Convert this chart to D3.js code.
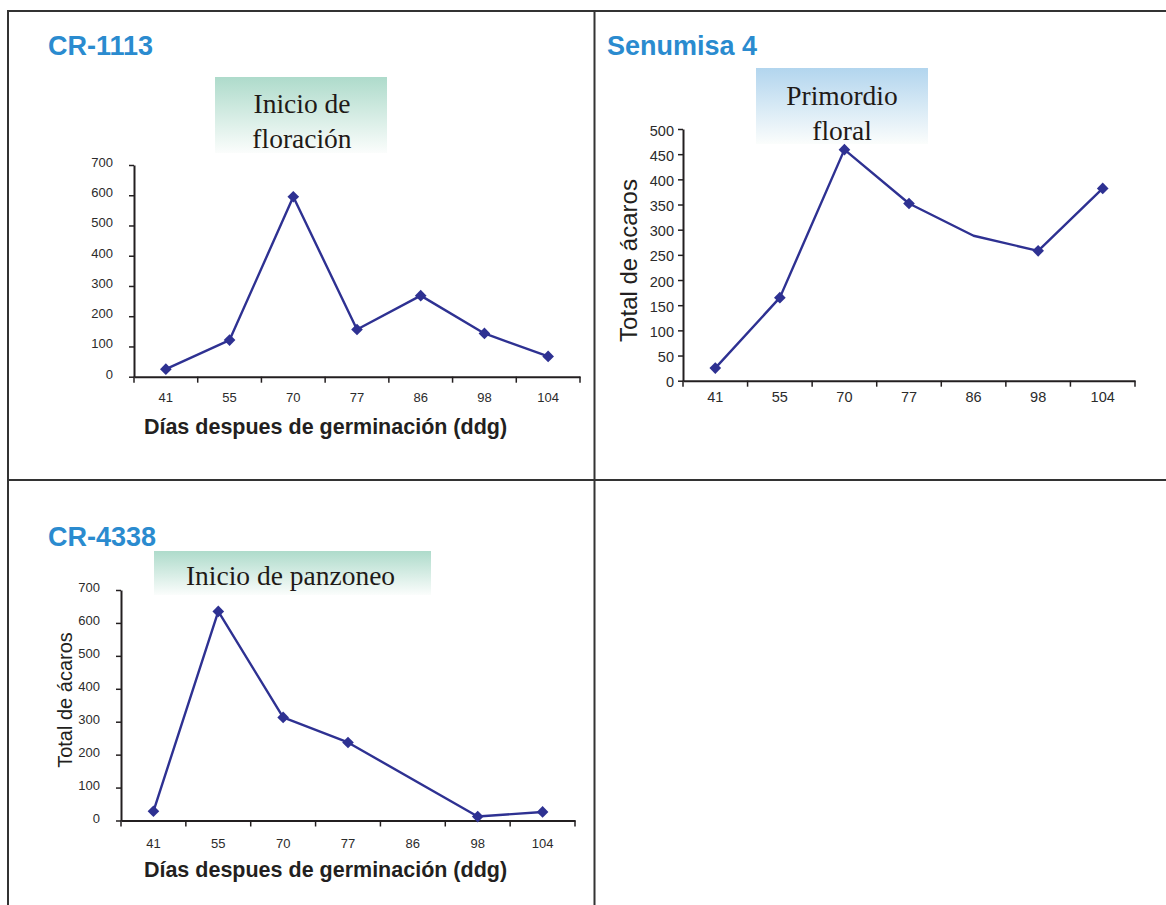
<!DOCTYPE html>
<html>
<head>
<meta charset="utf-8">
<script src="https://cdn.jsdelivr.net/npm/d3@7"></script>
<style>
  html, body { margin: 0; padding: 0; background: #fff; }
  svg { display: block; }
</style>
</head>
<body>
<svg id="chart" width="1166" height="905"></svg>
<script>
// ---- data ----
const days = ["41", "55", "70", "77", "86", "98", "104"];
const cr1113 = [25, 121, 595, 156, 268, 143, 67];
const senumisa4 = [25, 165, 459, 352, 288, 258, 382];
const senumisa4Markers = [true, true, true, true, false, true, true];
const cr4338 = [28, 635, 313, 237, null, 12, 26];
const ticks700 = [0, 100, 200, 300, 400, 500, 600, 700];
const ticks500 = [0, 50, 100, 150, 200, 250, 300, 350, 400, 450, 500];
const panelTitles = ["CR-1113", "Senumisa 4", "CR-4338"];
const stageLabels = [["Inicio de", "floración"], ["Primordio", "floral"], ["Inicio de panzoneo"]];
const xAxisTitle = "Días despues de germinación (ddg)";
const yAxisTitle = "Total de ácaros";

const svg = d3.select("#chart");
const LINE = "#2e3192";
const AXIS = "#231f20";
const TEXT = "#2b2b2b";
const BLUE = "#2a8bcf";
const SANS = "'Liberation Sans', Arial, sans-serif";
const SERIF = "'Liberation Serif', 'Times New Roman', serif";

// gradients
const defs = svg.append("defs");
function grad(id, top) {
  const g = defs.append("linearGradient").attr("id", id).attr("x1", 0).attr("y1", 0).attr("x2", 0).attr("y2", 1);
  g.append("stop").attr("offset", "0%").attr("stop-color", top);
  g.append("stop").attr("offset", "100%").attr("stop-color", "#fbfdfc");
}
grad("gGreen", "#aedbcb");
grad("gBlue", "#b2d5ee");

// panel frame
const frame = svg.append("g").attr("stroke", "#333").attr("stroke-width", 2).attr("fill", "none");
frame.append("line").attr("x1", 8).attr("y1", 11).attr("x2", 1166).attr("y2", 11);
frame.append("line").attr("x1", 8).attr("y1", 10).attr("x2", 8).attr("y2", 905);
frame.append("line").attr("x1", 594.5).attr("y1", 10).attr("x2", 594.5).attr("y2", 905);
frame.append("line").attr("x1", 8).attr("y1", 480).attr("x2", 1166).attr("y2", 480);

const panels = [
  {
    values: cr1113, markers: null, yTicks: ticks700, yMax: 700,
    xr: [134, 580], yr: [376.7, 165],
    title: panelTitles[0], titlePos: [48, 46],
    box: [215, 77, 172, 76], boxFill: "url(#gGreen)",
    stage: stageLabels[0], stageX: 302, stageY: [112.5, 148],
    yFont: 13, yLabelRight: 113, yLabelDy: -3,
    xFont: 13, xLabelY: 398,
    xTitle: [325.5, 427], yTitle: null
  },
  {
    values: senumisa4, markers: senumisa4Markers, yTicks: ticks500, yMax: 500,
    xr: [683, 1135], yr: [380.7, 129],
    title: panelTitles[1], titlePos: [607, 46],
    box: [756, 68, 172, 76], boxFill: "url(#gBlue)",
    stage: stageLabels[1], stageX: 842, stageY: [105, 140],
    yFont: 14.5, yLabelRight: 674, yLabelDy: 1,
    xFont: 14.5, xLabelY: 397.5,
    xTitle: null, yTitle: [628, 260.5, 24]
  },
  {
    values: cr4338, markers: null, yTicks: ticks700, yMax: 700,
    xr: [121, 575], yr: [820.5, 590],
    title: panelTitles[2], titlePos: [48, 537],
    box: [154, 551, 277, 44], boxFill: "url(#gGreen)",
    stage: stageLabels[2], stageX: 290.5, stageY: [585],
    yFont: 13, yLabelRight: 100, yLabelDy: -3,
    xFont: 13, xLabelY: 843,
    xTitle: [325.5, 870], yTitle: [65, 700, 20]
  }
];

panels.forEach(p => {
  const g = svg.append("g");

  // title
  g.append("text").attr("x", p.titlePos[0]).attr("y", p.titlePos[1])
    .attr("dominant-baseline", "central")
    .attr("font-family", SANS).attr("font-weight", "bold").attr("font-size", 27)
    .attr("fill", BLUE).text(p.title);

  // stage box
  g.append("rect").attr("x", p.box[0]).attr("y", p.box[1]).attr("width", p.box[2]).attr("height", p.box[3])
    .attr("fill", p.boxFill);
  p.stage.forEach((s, i) => {
    g.append("text").attr("x", p.stageX).attr("y", p.stageY[i])
      .attr("text-anchor", "middle").attr("font-family", SERIF).attr("font-size", 27.5)
      .attr("fill", "#1f1a17").text(s);
  });

  const x = d3.scaleBand().domain(days).range(p.xr).paddingInner(0).paddingOuter(0);
  const y = d3.scaleLinear().domain([0, p.yMax]).range(p.yr);

  // y axis
  const ya = g.append("g").attr("transform", `translate(${p.xr[0]},0)`)
    .call(d3.axisLeft(y).tickValues(p.yTicks).tickSize(5).tickSizeOuter(0).tickPadding(0));
  ya.select(".domain").attr("stroke", AXIS).attr("stroke-width", 2);
  ya.selectAll(".tick line").attr("stroke", AXIS).attr("stroke-width", 1.5);
  ya.selectAll(".tick text")
    .attr("x", p.yLabelRight - p.xr[0]).attr("dy", null)
    .attr("transform", `translate(0,${p.yLabelDy})`)
    .attr("dominant-baseline", "central")
    .attr("font-family", SANS).attr("font-size", p.yFont).attr("fill", TEXT);

  // x axis: labels at band centers, ticks at band boundaries
  const xa = g.append("g").attr("transform", `translate(0,${p.yr[0]})`)
    .call(d3.axisBottom(x).tickSize(0).tickSizeOuter(0).tickPadding(0));
  xa.select(".domain").attr("stroke", AXIS).attr("stroke-width", 2);
  xa.selectAll(".tick text")
    .attr("y", p.xLabelY - p.yr[0]).attr("dy", null)
    .attr("dominant-baseline", "central")
    .attr("font-family", SANS).attr("font-size", p.xFont).attr("fill", TEXT);
  const bounds = days.map(d => x(d)).concat([x(days[days.length - 1]) + x.bandwidth()]);
  xa.selectAll("line.bt").data(bounds).enter().append("line").attr("class", "bt")
    .attr("x1", d => d).attr("x2", d => d).attr("y1", 0).attr("y2", 6)
    .attr("stroke", AXIS).attr("stroke-width", 1.5);

  // axis titles
  if (p.xTitle) {
    g.append("text").attr("x", p.xTitle[0]).attr("y", p.xTitle[1])
      .attr("text-anchor", "middle").attr("dominant-baseline", "central")
      .attr("font-family", SANS).attr("font-weight", "bold").attr("font-size", 21.5)
      .attr("fill", "#231f20").text(xAxisTitle);
  }
  if (p.yTitle) {
    g.append("text").attr("transform", `translate(${p.yTitle[0]},${p.yTitle[1]}) rotate(-90)`)
      .attr("text-anchor", "middle").attr("dominant-baseline", "central")
      .attr("font-family", SANS).attr("font-size", p.yTitle[2])
      .attr("fill", "#231f20").text(yAxisTitle);
  }

  // series
  const pts = days.map((d, i) => ({ d, v: p.values[i], m: p.markers ? p.markers[i] : true }))
    .filter(o => o.v !== null && o.v !== undefined);
  const cx = d => x(d) + x.bandwidth() / 2;
  g.append("path").datum(pts)
    .attr("d", d3.line().x(o => cx(o.d)).y(o => y(o.v)))
    .attr("fill", "none").attr("stroke", LINE).attr("stroke-width", 2.4).attr("stroke-linejoin", "round");
  const sym = d3.symbol().type(d3.symbolSquare).size(68);
  g.selectAll("path.mk").data(pts.filter(o => o.m)).enter().append("path").attr("class", "mk")
    .attr("d", sym)
    .attr("transform", o => `translate(${cx(o.d)},${y(o.v)}) rotate(45)`)
    .attr("fill", LINE);
});
</script>
</body>
</html>
